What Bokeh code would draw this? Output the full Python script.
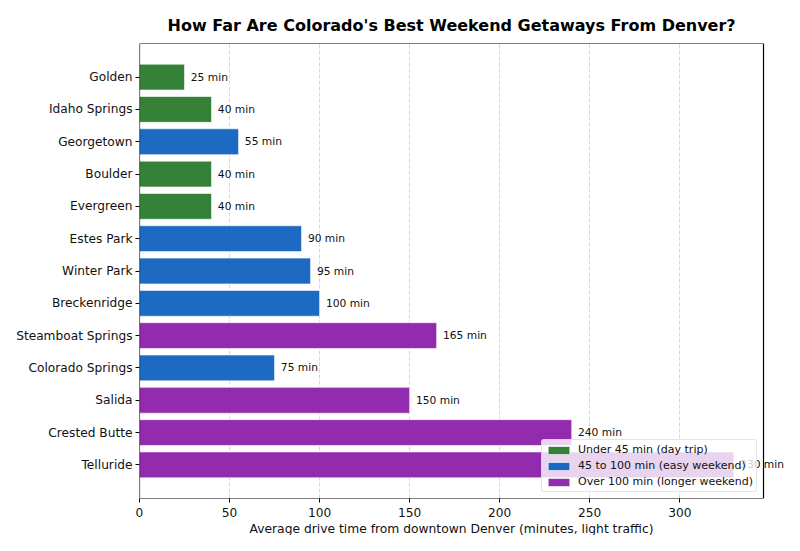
from bokeh.plotting import figure
from bokeh.models import (ColumnDataSource, FactorRange, Range1d, FixedTicker, Legend,
                          LegendItem, LabelSet, BoxAnnotation, Title)
from bokeh.embed import file_html
from bokeh.resources import INLINE
from bokeh.core.properties import value

destinations = ["Golden", "Idaho Springs", "Georgetown", "Boulder", "Evergreen",
                "Estes Park", "Winter Park", "Breckenridge", "Steamboat Springs",
                "Colorado Springs", "Salida", "Crested Butte", "Telluride"]
minutes = [25, 40, 55, 40, 40, 90, 95, 100, 165, 75, 150, 240, 330]
x_ticks = [0, 50, 100, 150, 200, 250, 300]
x_max = 346.5
group_names = ["Under 45 min (day trip)", "45 to 100 min (easy weekend)", "Over 100 min (longer weekend)"]
group_colors = ["#2e7d32", "#1565c0", "#8e24aa"]

def group_of(m):
    if m < 45:
        return 0
    if m <= 100:
        return 1
    return 2

groups = [group_of(m) for m in minutes]
labels = [f"{m} min" for m in minutes]

FONT = "DejaVu Sans"
W, H = 784, 535
LEFT, TOP, BOTTOM = 139, 43, 36
BOX_W = 624  # width of the axes box in px
frame_w = W - LEFT

p = figure(width=W, height=H, output_backend="svg", toolbar_location=None,
           y_range=FactorRange(factors=list(reversed(destinations)), range_padding=0.54,
                               range_padding_units="absolute"),
           x_range=Range1d(0, x_max * frame_w / BOX_W),
           min_border_left=LEFT, min_border_right=0, min_border_bottom=BOTTOM, min_border_top=TOP)

title = Title(text="How Far Are Colorado's Best Weekend Getaways From Denver?", align="left",
              offset=28, text_font=FONT, text_font_size="16px", text_font_style="bold",
              text_color="black", standoff=17)
p.add_layout(title, "above")

renderers = []
for gi in range(3):
    idx = [i for i, g in enumerate(groups) if g == gi]
    src = ColumnDataSource(dict(y=[destinations[i] for i in idx],
                                x=[minutes[i] for i in idx]))
    r = p.hbar(y="y", right="x", left=0, height=0.8, source=src,
               fill_color=group_colors[gi], fill_alpha=0.97,
               line_color="white", line_width=0.6)
    renderers.append(r)

lab_src = ColumnDataSource(dict(y=destinations, x=[m + 3.5 for m in minutes], t=labels))
lset = LabelSet(x="x", y="y", text="t", source=lab_src, text_font=value(FONT),
                text_font_size=value("10.7px"), text_baseline="middle", text_align="left",
                text_color="#111111")
p.add_layout(lset)

# axes box (spines)
p.add_layout(BoxAnnotation(left=0, right=x_max, fill_color=None, fill_alpha=0,
                           line_color="black", line_alpha=1.0, line_width=1.2))

legend = Legend(items=[LegendItem(label=group_names[i], renderers=[renderers[i]]) for i in range(3)],
                location=(402, 6))
legend.label_text_font = FONT
legend.label_text_font_size = "11px"
legend.label_text_color = "#111111"
legend.glyph_width = 27
legend.glyph_height = 10
legend.label_height = 10
legend.spacing = 3
legend.padding = 3
legend.margin = 0
legend.label_standoff = 6
legend.border_line_color = "#cccccc"
legend.background_fill_alpha = 0.8
legend.border_radius = 3
p.add_layout(legend)

p.xaxis.ticker = FixedTicker(ticks=x_ticks)
for ax in [p.xaxis[0], p.yaxis[0]]:
    ax.axis_line_color = None
    ax.major_tick_line_color = "black"
    ax.major_tick_out = 4
    ax.major_tick_in = 0
    ax.minor_tick_line_color = None
    ax.major_label_text_font = FONT
    ax.major_label_text_font_size = "12.2px"
    ax.major_label_text_color = "#111111"
p.yaxis.major_label_standoff = 3
p.xaxis.major_label_standoff = 5

xlabel = Title(text="Average drive time from downtown Denver (minutes, light traffic)", align="left",
               offset=110, text_font=FONT, text_font_size="12.3px", text_font_style="normal",
               text_color="#111111", standoff=0)
p.add_layout(xlabel, "below")

p.ygrid.grid_line_color = None
p.xgrid.ticker = FixedTicker(ticks=x_ticks)
p.xgrid.grid_line_color = "#bbbbbb"
p.xgrid.grid_line_alpha = 0.6
p.xgrid.grid_line_dash = "4 2"
p.outline_line_color = None

open("out.html", "w").write(file_html(p, INLINE))
